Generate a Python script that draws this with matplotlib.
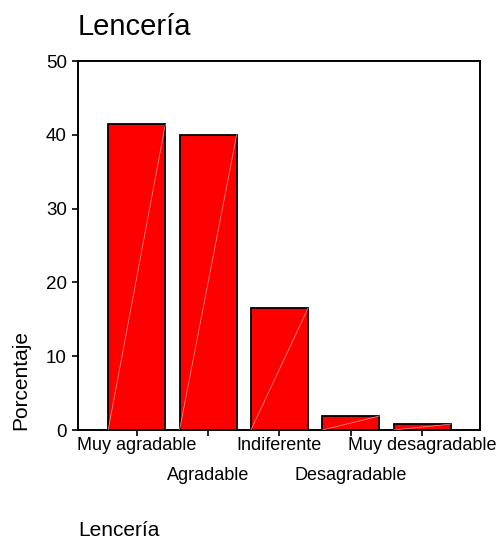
import numpy as np
import matplotlib.pyplot as plt

plt.rcParams['font.family'] = ['Liberation Sans', 'DejaVu Sans']

categorias = ['Muy agradable', 'Agradable', 'Indiferente', 'Desagradable', 'Muy desagradable']
porcentajes = [41.4, 40.0, 16.5, 1.9, 0.8]
yticks = [0, 10, 20, 30, 40, 50]


def main():
    fig = plt.figure(figsize=(4.99, 5.4), dpi=100)
    ax = fig.add_axes([0.156, 0.2037, 0.806, 0.6833])

    x = np.arange(len(categorias))
    ancho = 0.8
    ax.bar(x, porcentajes, width=ancho, color='#ff0000', edgecolor='black', linewidth=1.3, zorder=2)
    # costura diagonal clara dentro de cada barra
    for xi, h in zip(x, porcentajes):
        ax.plot([xi - ancho / 2, xi + ancho / 2], [0, h], color='#ff9a9a', lw=0.5, zorder=3)

    ax.set_xlim(-0.825, 4.81)
    ax.set_ylim(0, 50)
    ax.set_yticks(yticks)
    ax.set_yticklabels([str(v) for v in yticks], fontsize=13.5)
    ax.set_xticks(x)
    ax.set_xticklabels([])
    ax.tick_params(axis='y', direction='out', length=4, width=1.2, pad=4)
    ax.tick_params(axis='x', direction='out', length=4, width=1.2)
    for s in ax.spines.values():
        s.set_linewidth(1.4)

    # etiquetas escalonadas
    for i, (xi, lab) in enumerate(zip(x, categorias)):
        dy = -0.02 if i % 2 == 0 else -0.1
        ax.text(xi, dy, lab, transform=ax.get_xaxis_transform(), ha='center', va='top', fontsize=13)

    fig.text(0.042, 0.2037, 'Porcentaje', fontsize=15, rotation=90, ha='center', va='bottom')
    fig.text(0.156, 0.935, 'Lencería', fontsize=21, ha='left', va='baseline')
    fig.text(0.156, 0.007, 'Lencería', fontsize=15, ha='left', va='baseline')

    fig.savefig('out.png', dpi=100)


if __name__ == "__main__":
    main()
